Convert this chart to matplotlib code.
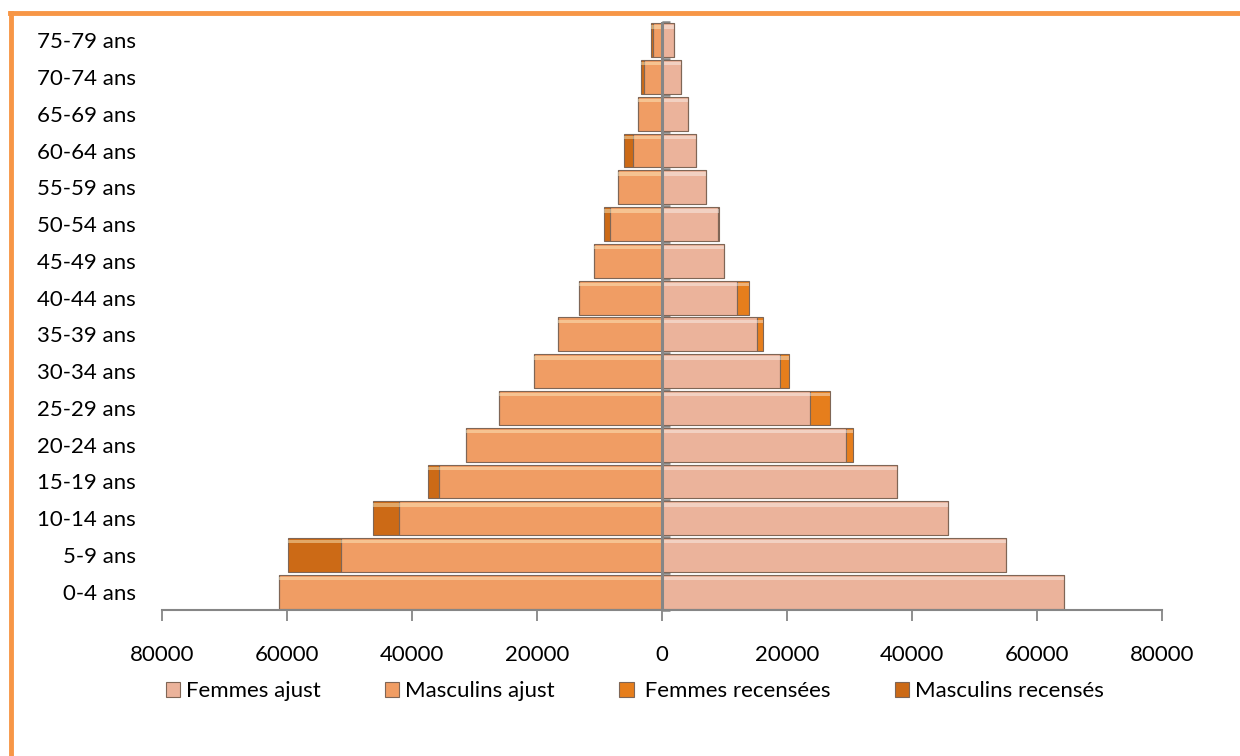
import matplotlib
import matplotlib.pyplot as plt
from matplotlib.lines import Line2D

matplotlib.rcParams['font.family'] = ['Lato', 'DejaVu Sans']

ages = ['0-4 ans', '5-9 ans', '10-14 ans', '15-19 ans', '20-24 ans', '25-29 ans',
        '30-34 ans', '35-39 ans', '40-44 ans', '45-49 ans', '50-54 ans', '55-59 ans',
        '60-64 ans', '65-69 ans', '70-74 ans', '75-79 ans']

femmes_ajust = [64400, 55000, 45700, 37600, 29400, 23700, 18900, 15200, 12000,
                10000, 8900, 7100, 5500, 4100, 3000, 1900]
masculins_ajust = [61200, 51300, 42100, 35700, 31400, 26100, 20400, 16600, 13300,
                   10800, 8300, 7000, 4600, 3900, 2900, 1400]
femmes_rec = [0, 0, 0, 0, 1100, 3200, 1500, 1000, 1900, 0, 300, 0, 0, 0, 0, 0]
masculins_rec = [0, 8600, 4100, 1700, 0, 0, 0, 0, 0, 0, 950, 0, 1400, 0, 450, 400]

c_fa = '#EBB39B'
c_ma = '#F09D64'
c_fr = '#E67E1C'
c_mr = '#CC6A16'
edge = '#7f6656'
gris = '#868686'

fig = plt.figure(figsize=(12.4, 7.56), dpi=100)
ax = fig.add_axes([0.1306, 0.193, 0.8064, 0.778])

y = list(range(len(ages)))
h = 0.92
neg_ma = [-v for v in masculins_ajust]
neg_mr = [-v for v in masculins_rec]

ax.barh(y, femmes_ajust, height=h, color=c_fa, edgecolor=edge, linewidth=0.8,
        label='Femmes ajust', zorder=2)
ax.barh(y, neg_ma, height=h, color=c_ma, edgecolor=edge, linewidth=0.8,
        label='Masculins ajust', zorder=2)
ax.barh(y, femmes_rec, left=femmes_ajust, height=h, color=c_fr, edgecolor=edge,
        linewidth=0.8, label=' Femmes recensées', zorder=2)
ax.barh(y, neg_mr, left=neg_ma, height=h, color=c_mr, edgecolor=edge,
        linewidth=0.8, label='Masculins recensés', zorder=2)

# reflet clair en haut des barres (effet biseau)
tot_f = [a + b for a, b in zip(femmes_ajust, femmes_rec)]
tot_m = [a + b for a, b in zip(neg_ma, neg_mr)]
ax.barh([v + 0.36 for v in y], tot_f, height=0.09, color='white',
        alpha=0.4, linewidth=0, zorder=3)
ax.barh([v + 0.36 for v in y], tot_m, height=0.09, color='#FFF3C8',
        alpha=0.45, linewidth=0, zorder=3)

ax.set_xlim(-80000, 80000)
ax.set_ylim(-0.5, len(ages) - 0.5)
xt = [-80000, -60000, -40000, -20000, 0, 20000, 40000, 60000, 80000]
ax.set_xticks(xt)
ax.set_xticklabels([str(abs(v)) for v in xt], fontsize=16)
ax.tick_params(axis='x', length=8, color=gris, width=1.3, pad=17)

ax.set_yticks(y)
ax.set_yticklabels(ages, fontsize=16)
ax.tick_params(axis='y', length=0, pad=19)

for s in ['top', 'right', 'left']:
    ax.spines[s].set_visible(False)
ax.spines['bottom'].set_color(gris)
ax.spines['bottom'].set_linewidth(1.5)

# axe central avec graduations aux limites des classes
ax.axvline(0, color=gris, lw=2.2, zorder=4)
sec = ax.secondary_yaxis(0.5)
sec.set_yticks([v - 0.5 for v in y] + [len(ages) - 0.5])
sec.set_yticklabels([])
sec.tick_params(length=6, color=gris, width=1.8)
sec.spines['left'].set_visible(False)

fig.legend(loc='center', bbox_to_anchor=(0.512, 0.086), ncol=4, frameon=False,
           fontsize=16, handlelength=0.65, handleheight=0.65, columnspacing=2.9,
           handletextpad=0.25)

# cadre orange
fig.add_artist(Line2D([0.008, 1.0], [0.983, 0.983], color='#F79646', lw=3.5,
                      transform=fig.transFigure))
fig.add_artist(Line2D([0.0085, 0.0085], [0.0, 0.983], color='#F79646', lw=3.5,
                      transform=fig.transFigure))

fig.savefig('out.png', dpi=100)
